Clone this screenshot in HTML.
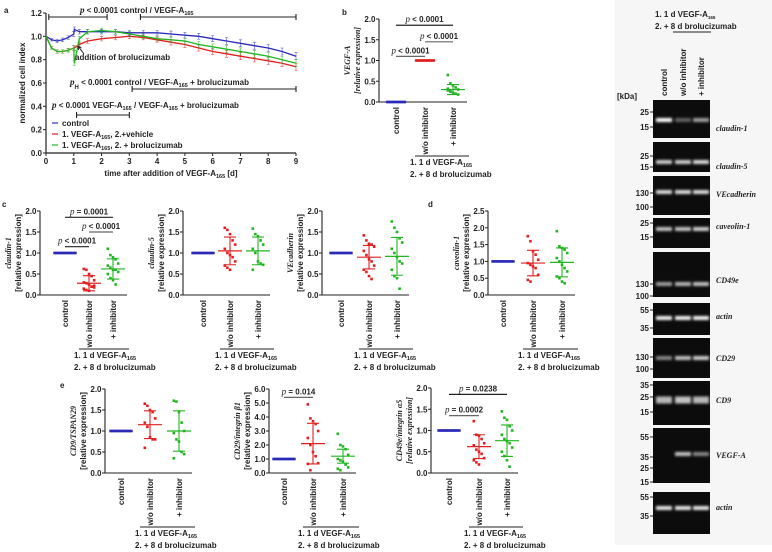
<!DOCTYPE html>
<html><head><meta charset="utf-8">
<style>
html,body{margin:0;padding:0;background:#fff;}
svg{display:block;font-family:"Liberation Sans",Arial,sans-serif;}
.t{font-size:8px;font-weight:bold;fill:#222;}
.it{font-family:"Liberation Serif",serif;font-style:italic;}
</style></head>
<body>
<svg id="fig" width="772" height="552" viewBox="0 0 772 552" xmlns="http://www.w3.org/2000/svg">
<defs><filter id="blur" x="-20%" y="-100%" width="140%" height="300%"><feGaussianBlur stdDeviation="1.2"/></filter></defs>
</svg>
<script>
// ---------- Panel a data ----------
const timeA = [0,0.2,0.4,0.6,0.8,1.0,1.02,1.2,1.5,2,2.5,3,3.5,4,4.5,5,5.5,6,6.5,7,7.5,8,8.5,9];
const controlA = [1.0,0.97,0.96,0.97,0.99,1.02,1.06,1.04,1.04,1.04,1.04,1.03,1.03,1.03,1.02,1.01,1.0,0.98,0.96,0.94,0.92,0.9,0.87,0.83];
const vehicleA = [1.0,0.9,0.87,0.87,0.88,0.9,0.9,0.93,0.96,0.98,0.99,1.0,0.99,0.97,0.95,0.93,0.9,0.87,0.85,0.83,0.81,0.79,0.77,0.74];
const broluA = [1.0,0.9,0.87,0.87,0.88,0.9,0.77,0.98,1.04,1.05,1.04,1.02,1.0,0.98,0.97,0.96,0.93,0.91,0.89,0.87,0.85,0.83,0.8,0.77];
const errA = [0,0.01,0.015,0.015,0.015,0.02,0.02,0.02,0.02,0.02,0.02,0.02,0.02,0.02,0.025,0.025,0.025,0.025,0.03,0.03,0.03,0.03,0.03,0.03];
const xTicksA = [0,1,2,3,4,5,6,7,8,9];
const yTicksA = [0,0.2,0.4,0.6,0.8,1.0,1.2];

// ---------- Dot plot data ----------
const cats = ["control","w/o inhibitor","+ inhibitor"];
const b_ctrl=[0,0,0,0,0,0,0,0,0,0,0,0], b_wo=[1,1,1,1,1,1,1,1,1,1,1,1];
const b_inh=[0.65,0.45,0.4,0.35,0.3,0.28,0.25,0.22,0.2,0.18,0.32,0.27];
const b_means=[0,1,0.3], b_sds=[0,0,0.12];
const ones=[1,1,1,1,1,1,1,1,1,1,1,1,1,1];
const c1_wo=[0.62,0.6,0.5,0.45,0.35,0.3,0.28,0.25,0.2,0.18,0.15,0.12,0.1,0.2,0.22];
const c1_inh=[1.1,0.95,0.9,0.85,0.75,0.7,0.65,0.6,0.6,0.55,0.5,0.4,0.35,0.25];
const c1_means=[1,0.28,0.62], c1_sds=[0,0.18,0.24];
const c2_wo=[1.6,1.55,1.45,1.3,1.2,1.1,1.0,0.95,0.9,0.8,0.7,0.65,0.6];
const c2_inh=[1.58,1.45,1.4,1.3,1.2,1.1,1.0,0.8,0.75,0.72,0.6];
const c2_means=[1,1.05,1.05], c2_sds=[0,0.33,0.33];
const c3_wo=[1.42,1.3,1.22,1.2,1.15,1.05,0.95,0.85,0.8,0.7,0.6,0.55,0.45,0.38];
const c3_inh=[1.75,1.6,1.5,1.35,1.25,1.1,1.0,0.9,0.8,0.75,0.6,0.45,0.4,0.15];
const c3_means=[1,0.9,0.92], c3_sds=[0,0.28,0.45];
const d_wo=[1.75,1.6,1.3,1.2,1.05,0.95,0.9,0.85,0.8,0.6,0.45,0.4];
const d_inh=[1.9,1.45,1.4,1.35,1.25,1.1,1.0,0.9,0.8,0.7,0.55,0.5,0.4,0.35];
const d_means=[1,0.95,0.97], d_sds=[0,0.38,0.43];
const e1_wo=[1.65,1.6,1.5,1.45,1.3,1.2,1.1,0.85,0.8,0.8,0.6];
const e1_inh=[1.72,1.7,1.45,1.2,1.0,0.95,0.8,0.75,0.5,0.45,0.35];
const e1_means=[1,1.15,1.0], e1_sds=[0,0.33,0.48];
const e2_wo=[4.9,3.9,3.7,3.5,3.0,2.5,2.0,1.5,1.2,0.7,0.65,0.2];
const e2_inh=[2.8,2.0,1.9,1.7,1.3,1.0,0.9,0.8,0.6,0.4,0.3,0.2];
const e2_means=[1,2.1,1.2], e2_sds=[0,1.45,0.5];
const e3_wo=[1.22,0.9,0.88,0.8,0.7,0.65,0.55,0.5,0.45,0.35,0.3,0.25,0.2];
const e3_inh=[1.45,1.3,1.25,1.1,1.0,0.9,0.8,0.75,0.7,0.6,0.5,0.4,0.3,0.15];
const e3_means=[1,0.62,0.76], e3_sds=[0,0.28,0.37];

// ---------- Blot data ----------
const blotNames=["claudin-1","claudin-5","VEcadherin","caveolin-1","CD49e","actin","CD29","CD9","VEGF-A","actin"];
const bandIntensity=[[1,0.35,0.6],[0.8,0.8,0.85],[0.85,0.85,0.85],[0.75,0.75,0.8],[0.6,0.7,0.75],[0.95,0.95,0.95],[0.5,0.75,0.8],[0.7,0.75,0.7],[0,0.75,0.5],[0.9,0.9,0.9]];

const NS="http://www.w3.org/2000/svg";
const svg=document.getElementById('fig');
const BLUE="#2b2bb8", RED="#e02020", GREEN="#22b522";
function mk(tag,attrs,parent){const e=document.createElementNS(NS,tag);for(const k in attrs)e.setAttribute(k,attrs[k]);(parent||svg).appendChild(e);return e;}
function txt(x,y,s,cls,extra,parent){const e=mk('text',Object.assign({x:x,y:y,class:cls||'t'},extra||{}),parent);e.innerHTML=s;return e;}

// panel letters
[["a",4,13],["b",342,15],["c",2,207],["d",428,207],["e",60,388],["f",620,22]].forEach(p=>{
  const t=txt(p[1],p[2],p[0],'t',{'font-size':'13'});
  
  
});

// ---------- Panel a ----------
const ax0=46, ax1=296, ay0=153, ay1=13;
const sxA=v=>ax0+(ax1-ax0)*v/9, syA=v=>ay0-(ay0-ay1)*v/1.2;
const gA=mk('g',{});


const axA=mk('path',{d:`M${ax0},${ay1}V${ay0}H${ax1}`,stroke:'#222','stroke-width':1.2,fill:'none'},gA);


yTicksA.forEach(v=>{
  const l=mk('line',{x1:ax0-3,x2:ax0,y1:syA(v),y2:syA(v),stroke:'#222'},gA);
  
  
  const t=txt(ax0-4,syA(v)+3,v.toFixed(1),'t',{'text-anchor':'end'},gA);
  
  
});
xTicksA.forEach(v=>{
  const l=mk('line',{x1:sxA(v),x2:sxA(v),y1:ay0,y2:ay0+3,stroke:'#222'},gA);
  
  
  const t=txt(sxA(v),ay0+11,String(v),'t',{'text-anchor':'middle'},gA);
  
  
});
const xtA=txt(171,176,'time after addition of VEGF-A<tspan font-size="5.5" dy="2">165</tspan><tspan dy="-2"> [d]</tspan>','t',{'text-anchor':'middle'},gA);


const ytA=txt(0,0,'normalized cell index','t',{'text-anchor':'middle',transform:`translate(25,${(ay0+ay1)/2}) rotate(-90)`},gA);


[[controlA,BLUE,'control'],[vehicleA,RED,'vehicle'],[broluA,GREEN,'brolucizumab']].forEach(s=>{
  let d='';
  s[0].forEach((v,i)=>{d+=(i?'L':'M')+sxA(timeA[i]).toFixed(1)+','+syA(v).toFixed(1);});
  const p=mk('path',{d:d,stroke:s[1],'stroke-width':1.3,fill:'none'},gA);
  
  
  s[0].forEach((v,i)=>{
    if(!errA[i])return;
    const e=mk('path',{d:`M${sxA(timeA[i])},${syA(v-errA[i])}V${syA(v+errA[i])}M${sxA(timeA[i])-1.5},${syA(v-errA[i])}h3M${sxA(timeA[i])-1.5},${syA(v+errA[i])}h3`,stroke:s[1],'stroke-width':0.6,fill:'none',opacity:0.8},gA);
    
    
  });
});
function bracket(x1,x2,y,parent,name){
  const p=mk('path',{d:`M${x1},${y-3}V${y+3}M${x1},${y}H${x2}M${x2},${y-3}V${y+3}`,stroke:'#222','stroke-width':1.1,fill:'none'},parent);
  
  
}
bracket(sxA(0.1),sxA(2.2),17,gA,'sig-bar-control-vegf-1');
bracket(sxA(3.4),sxA(9),17,gA,'sig-bar-control-vegf-2');
bracket(sxA(3.1),sxA(9),89,gA,'sig-bar-control-brolu');
bracket(sxA(1.1),sxA(3.0),115,gA,'sig-bar-vegf-brolu');
let t1=txt(80,13,'<tspan class="it" font-size="9">p</tspan> &lt; 0.0001 control / VEGF-A<tspan font-size="5.5" dy="2">165</tspan>','t',{'font-size':'8.5'},gA);


let t2=txt(70,85,'<tspan class="it" font-size="9">p</tspan><tspan font-size="6" dy="4">H</tspan><tspan dy="-4"> &lt; 0.0001 control / VEGF-A</tspan><tspan font-size="5.5" dy="2">165</tspan><tspan dy="-2"> + brolucizumab</tspan>','t',{'font-size':'8.5'},gA);


let t3=txt(52,108,'<tspan class="it" font-size="9">p</tspan> &lt; 0.0001 VEGF-A<tspan font-size="5.5" dy="2">165</tspan><tspan dy="-2"> / VEGF-A</tspan><tspan font-size="5.5" dy="2">165</tspan><tspan dy="-2"> + brolucizumab</tspan>','t',{'font-size':'8.5'},gA);


let t4=txt(75,60,'addition of brolucizumab','t',{'font-size':'7'},gA);


let ar=mk('path',{d:'M84,54L78,46M78,46l0.5,4M78,46l3.5,2',stroke:'#222','stroke-width':1,fill:'none'},gA);


[["control",BLUE,126],["1. VEGF-A<tspan font-size='5.5' dy='2'>165</tspan><tspan dy='-2'>, 2.+vehicle</tspan>",RED,137],["1. VEGF-A<tspan font-size='5.5' dy='2'>165</tspan><tspan dy='-2'>, 2. + brolucizumab</tspan>",GREEN,148]].forEach((l,i)=>{
  const ln=mk('line',{x1:52,x2:58,y1:l[2]-3,y2:l[2]-3,stroke:l[1],'stroke-width':1.2},gA);
  
  
  const t=txt(62,l[2],l[0],'t',{fill:l[1],'font-size':'8'},gA);
  
  
});

// ---------- Dot plot panel function ----------
function dotPanel(o){
  const g=mk('g',{});
  
  
  const sy=v=>o.y0-(o.y0-o.yTop)*v/o.ymax;
  const catX=o.cx;
  const ax=mk('path',{d:`M${o.ax},${o.yTop}V${o.y0}H${o.ax+o.w}`,stroke:'#222','stroke-width':1.1,fill:'none'},g);
  
  
  for(let v=0;v<=o.ymax+1e-9;v+=o.step){
    const l=mk('line',{x1:o.ax-3,x2:o.ax,y1:sy(v),y2:sy(v),stroke:'#222'},g);
    
    
    const t=txt(o.ax-3.5,sy(v)+3,v.toFixed(1),'t',{'text-anchor':'end','font-size':'7.5'},g);
    
    
  }
  const ym=(o.y0+o.yTop)/2;
  const yl1=txt(0,0,o.gene,'t it',{'text-anchor':'middle','font-size':'9','font-weight':'normal',transform:`translate(${o.ax-29},${ym}) rotate(-90)`},g);
  
  
  const yl2=txt(0,0,'[relative expression]',o.italicRel?'t it':'t',{'text-anchor':'middle','font-size':o.italicRel?'9':'8','font-weight':o.italicRel?'normal':'bold',transform:`translate(${o.ax-19},${ym}) rotate(-90)`},g);
  
  
  cats.forEach((c,i)=>{
    const t=txt(0,0,c,'t',{'text-anchor':'end','font-size':'8.5',transform:`translate(${catX[i]+3},${o.y0+5}) rotate(-90)`},g);
    
    
  });
  const gx1=catX[1]-10, gx2=catX[2]+16;
  const gl=mk('line',{x1:gx1,x2:gx2,y1:o.y0+54,y2:o.y0+54,stroke:'#222'},g);
  
  
  const gt1=txt(gx1-5,o.y0+63,'1. 1 d  VEGF-A<tspan font-size="5.5" dy="2">165</tspan>','t',{},g);
  
  
  const gt2=txt(gx1-5,o.y0+75,'2. + 8 d brolucizumab','t',{},g);
  
  
  const cols=[BLUE,RED,GREEN];
  o.data.forEach((arr,ci)=>{
    const flat=arr.every(v=>v===arr[0]);
    arr.forEach((v,i)=>{
      const off=flat?(i-(arr.length-1)/2)*1.6:((i%5)-2)*2.6;
      const c=mk('rect',{x:catX[ci]+off-1.3,y:sy(v)-1.3,width:2.6,height:2.6,fill:cols[ci]},g);
      
      
    });
    const m=o.means[ci], s=o.sds[ci];
    if(!flat){
      const ml=mk('line',{x1:catX[ci]-12,x2:catX[ci]+12,y1:sy(m),y2:sy(m),stroke:cols[ci],'stroke-width':1.2},g);
      
      
      const eb=mk('path',{d:`M${catX[ci]},${sy(m-s)}V${sy(m+s)}M${catX[ci]-6},${sy(m-s)}h12M${catX[ci]-6},${sy(m+s)}h12`,stroke:cols[ci],'stroke-width':1.1,fill:'none'},g);
      
      
    }
  });
  (o.sig||[]).forEach(s=>{
    const y=sy(s[2]);
    const l=mk('line',{x1:catX[s[0]],x2:catX[s[1]],y1:y,y2:y,stroke:s[4]||'#222','stroke-width':1.2},g);
    
    
    const t=txt((catX[s[0]]+catX[s[1]])/2,y-3,'<tspan class="it" font-size="9" font-weight="normal">p</tspan> '+s[3],'t',{'text-anchor':'middle','font-size':'8'},g);
    
    
  });
}
dotPanel({name:'panel-b-vegfa',ax:379,y0:102,yTop:19,ymax:2,step:0.5,w:88,cx:[396,425,453],gene:'VEGF-A',italicRel:true,data:[b_ctrl,b_wo,b_inh],means:b_means,sds:b_sds,sig:[[0,2,1.85,'&lt; 0.0001'],[1,2,1.45,'&lt; 0.0001','#666'],[0,1,1.1,'&lt; 0.0001','#666']]});
dotPanel({name:'panel-c-claudin1',ax:40,y0:295,yTop:211,ymax:2,step:0.5,w:87,cx:[65,89,113],gene:'claudin-1',data:[ones,c1_wo,c1_inh],means:c1_means,sds:c1_sds,sig:[[0,2,1.85,'= 0.0001'],[1,2,1.5,'&lt; 0.0001','#666'],[0,1,1.15,'&lt; 0.0001']]});
dotPanel({name:'panel-c-claudin5',ax:183,y0:295,yTop:211,ymax:2,step:0.5,w:87,cx:[203,230,258],gene:'claudin-5',data:[ones,c2_wo,c2_inh],means:c2_means,sds:c2_sds});
dotPanel({name:'panel-c-vecadherin',ax:322,y0:295,yTop:211,ymax:2,step:0.5,w:87,cx:[341,369,397],gene:'VEcadherin',data:[ones,c3_wo,c3_inh],means:c3_means,sds:c3_sds});
dotPanel({name:'panel-d-caveolin1',ax:488,y0:295,yTop:211,ymax:2.5,step:0.5,w:87,cx:[503,533,562],gene:'caveolin-1',data:[ones,d_wo,d_inh],means:d_means,sds:d_sds});
dotPanel({name:'panel-e-cd9',ax:105,y0:473,yTop:389,ymax:2,step:0.5,w:87,cx:[121,150,179],gene:'CD9/TSPAN29',data:[ones,e1_wo,e1_inh],means:e1_means,sds:e1_sds});
dotPanel({name:'panel-e-cd29',ax:269,y0:473,yTop:389,ymax:6,step:1,w:87,cx:[284,313,343],gene:'CD29/integrin β1',data:[ones,e2_wo,e2_inh],means:e2_means,sds:e2_sds,sig:[[0,1,5.4,'= 0.014','#666']]});
dotPanel({name:'panel-e-cd49e',ax:431,y0:473,yTop:388,ymax:2,step:0.5,w:87,cx:[449,479,507],gene:'CD49e/integrin α5',italicRel:true,data:[ones,e3_wo,e3_inh],means:e3_means,sds:e3_sds,sig:[[0,2,1.85,'= 0.0238'],[0,1,1.35,'= 0.0002','#666']]});

// ---------- Panel f blots ----------
const gF=mk('g',{});


const bgF=mk('rect',{x:615,y:0,width:157,height:545,fill:'#f6f6f6'},gF);


const fh1=txt(655,17,'1. 1 d VEGF-A<tspan font-size="4.5" dy="2">165</tspan>','t',{'font-size':'7.5'},gF);


const fh2=txt(655,29,'2. + 8 d brolucizumab','t',{'font-size':'7.5'},gF);


const fl=mk('line',{x1:673,x2:711,y1:32,y2:32,stroke:'#222'},gF);


const laneX=[664,683,701];
cats.forEach((c,i)=>{
  const t=txt(0,0,c,'t',{'text-anchor':'start','font-size':'7.5',transform:`translate(${laneX[i]+3},${96}) rotate(-90)`},gF);
  
  
});
const kd=txt(617,99,'[kDa]','t',{'font-size':'7.5'},gF);


const rows=[[100,138,128,[[25,112],[15,127]],120],[142,172,166,[[25,156],[15,167]],162],[176,215,194,[[130,193],[100,207]],192],[218,248,226,[[25,223],[15,237]],229],[252,297,280,[[130,284],[100,296]],284],[303,335,316,[[55,310],[35,328]],318],[338,378,358,[[130,357],[100,369]],358],[381,425,400,[[35,385],[25,397],[15,412]],400],[428,483,455,[[55,437],[35,457],[25,468],[15,482]],454],[492,534,507,[[55,497],[35,516]],508]];
rows.forEach((r,ri)=>{
  const bk=mk('rect',{x:653,y:r[0],width:57,height:r[1]-r[0],fill:'#0c0c0c'},gF);
  
  
  bandIntensity[ri].forEach((v,li)=>{
    if(v<=0)return;
    const h=(ri===7)?7:4;
    const b=mk('rect',{x:laneX[li]-8,y:r[4]-h/2,width:16,height:h,fill:'#fff',opacity:v,filter:'url(#blur)'},gF);
    
    
  });
  const lab=txt(716,r[2]+3,blotNames[ri],'t it',{'font-size':'10','font-weight':'normal'},gF);
  
  
  r[3].forEach(m=>{
    const tk=mk('line',{x1:650,x2:653,y1:m[1],y2:m[1],stroke:'#222'},gF);
    
    
    const mt=txt(649,m[1]+3,String(m[0]),'t',{'text-anchor':'end','font-size':'7.5'},gF);
    
    
  });
});
</script>
</body></html>
